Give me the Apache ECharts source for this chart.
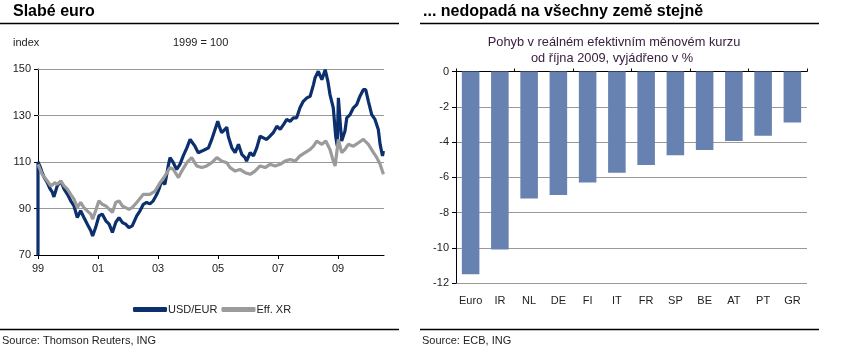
<!DOCTYPE html>
<html><head><meta charset="utf-8">
<script src="https://cdn.jsdelivr.net/npm/echarts@6/dist/echarts.min.js"></script>
<style>html,body{margin:0;padding:0;background:#fff}#c{width:849px;height:359px}</style>
</head><body><div id="c"></div>
<script>
// ---- left chart data (decimal year, index 1999 = 100)
const usdYears = [1999.00,1999.00,1999.07,1999.14,1999.22,1999.31,1999.40,1999.48,1999.53,1999.64,1999.76,1999.87,1999.98,2000.09,2000.20,2000.31,2000.42,2000.53,2000.64,2000.76,2000.82,2000.92,2001.03,2001.14,2001.26,2001.37,2001.48,2001.59,2001.70,2001.81,2001.92,2002.03,2002.14,2002.29,2002.40,2002.51,2002.62,2002.73,2002.84,2002.96,2003.05,2003.12,2003.23,2003.34,2003.40,2003.51,2003.62,2003.73,2003.84,2003.96,2004.07,2004.12,2004.23,2004.34,2004.46,2004.57,2004.68,2004.79,2004.90,2004.99,2005.05,2005.12,2005.23,2005.29,2005.34,2005.46,2005.57,2005.68,2005.79,2005.90,2005.95,2006.07,2006.18,2006.29,2006.40,2006.51,2006.62,2006.73,2006.84,2006.96,2007.07,2007.18,2007.29,2007.40,2007.51,2007.62,2007.73,2007.84,2007.96,2008.07,2008.12,2008.18,2008.23,2008.34,2008.46,2008.57,2008.66,2008.73,2008.84,2008.92,2008.97,2009.01,2009.07,2009.12,2009.23,2009.29,2009.40,2009.51,2009.62,2009.73,2009.84,2009.92,2010.01,2010.12,2010.23,2010.34,2010.40,2010.48,2010.51];
const usdValues = [70,110,108,105.4,103,101.1,98.5,96.9,95,99.7,101.8,98.3,96.1,93.3,91.1,86.1,89.0,86.1,83.3,80.4,78.2,81.8,86.8,87.6,84.7,83.3,79.7,84,86.1,84,83.3,81.8,82.5,86.8,89,91.8,92.6,92,93.3,96.1,99,101.8,100.4,108.3,111.9,109.7,106.8,109,112.6,116.1,119.7,120.4,116.8,114,114.7,115.4,116.1,119.7,124,127.5,125,122.6,124,125,121.1,116.1,114,117.6,113.3,111.9,110.4,114,112.6,116.1,121.1,120.4,119.7,121.1,122.6,125.4,124,126.1,128.3,127.5,129,129,133.3,136.1,137.6,138.3,139,143.3,146.1,149,145.4,149.7,144.7,139,133.3,121.1,117,137.6,126.9,119,123.3,129,130.4,133.3,134.7,138.3,141.1,141.1,136.1,130.4,128.3,124,117.6,112.6,114.7];
const effYears = [1999.00,1999.14,1999.31,1999.43,1999.56,1999.64,1999.76,1999.87,1999.98,2000.09,2000.20,2000.31,2000.42,2000.53,2000.64,2000.76,2000.82,2000.92,2001.03,2001.14,2001.26,2001.37,2001.48,2001.59,2001.70,2001.81,2001.92,2002.03,2002.14,2002.29,2002.51,2002.73,2002.90,2003.07,2003.23,2003.40,2003.51,2003.68,2003.79,2003.96,2004.12,2004.29,2004.46,2004.62,2004.79,2004.96,2005.12,2005.29,2005.40,2005.57,2005.73,2005.90,2006.07,2006.23,2006.40,2006.57,2006.73,2006.90,2007.07,2007.23,2007.40,2007.57,2007.73,2007.90,2008.07,2008.18,2008.29,2008.46,2008.59,2008.73,2008.84,2008.90,2009.01,2009.12,2009.23,2009.34,2009.51,2009.68,2009.84,2010.01,2010.18,2010.29,2010.40,2010.51];
const effValues = [109,104.7,101.8,99.7,101.1,100.4,101.8,99.7,98.3,96.1,94,90.4,92.6,90.4,89,87.6,85.4,89,93.3,91.8,91.1,89.7,88.3,92.6,93.3,91.1,90.4,89.7,90.4,92.6,96.1,96.1,97.5,101.1,104,107.6,106.8,103.3,106.1,109.7,111.9,108.3,107.6,108.3,109.7,111.9,110.4,109.7,107.6,106.1,106.8,105.4,104.7,106.1,108.3,107.6,109,108.3,109,110.4,111.1,110.4,112.6,114,115.4,116.8,119,117.6,119,115.4,110.4,108.3,119.7,114,115.4,117.6,116.8,118.3,119.7,117.6,114,111.9,109,104.7];
const leftYTicks = [70, 90, 110, 130, 150];
const leftXTicks = [1999, 2001, 2003, 2005, 2007, 2009];

// ---- right chart data (% change since Oct 2009)
const countries = ['Euro','IR','NL','DE','FI','IT','FR','SP','BE','AT','PT','GR'];
const reerChange = [-11.5,-10.1,-7.2,-7.0,-6.3,-5.75,-5.3,-4.75,-4.45,-3.95,-3.65,-2.9];

const FONT = '"Liberation Sans", Arial, sans-serif';
const chart = echarts.init(document.getElementById('c'), null, {renderer: 'canvas'});
const txt = (x, y, s, extra) => Object.assign({type: 'text', left: x, top: y, style: Object.assign({text: s, font: '11px ' + FONT, fill: '#222'}, extra || {})});
const hline = (x1, x2, y, w) => ({type: 'line', shape: {x1: x1, y1: y, x2: x2, y2: y}, style: {stroke: '#000', lineWidth: w}});

chart.setOption({
  animation: false,
  textStyle: {fontFamily: FONT},
  grid: [
    {left: 38, top: 69, width: 346, height: 186},
    {left: 456, top: 71.5, width: 351, height: 211.5}
  ],
  legend: {
    data: ['USD/EUR', 'Eff. XR'], left: 128, top: 299, itemWidth: 34, itemHeight: 5, itemGap: 4,
    icon: 'roundRect', textStyle: {fontSize: 11, color: '#222', fontFamily: FONT, padding: [0, 0, 0, -4]}
  },
  xAxis: [
    {type: 'value', gridIndex: 0, min: 1999, max: 2010.53,
     axisLine: {show: true, onZero: false, lineStyle: {color: '#000', width: 1}},
     axisTick: {show: true, length: 4, customValues: leftXTicks, lineStyle: {color: '#000'}},
     axisLabel: {customValues: leftXTicks, formatter: v => String(Math.round(v)).slice(2), fontSize: 11, color: '#222', margin: 8},
     splitLine: {show: false}},
    {type: 'category', gridIndex: 1, data: countries, position: 'bottom',
     axisLine: {show: false}, axisTick: {show: false},
     axisLabel: {fontSize: 11, color: '#222', margin: 12, interval: 0}},
    {type: 'category', gridIndex: 1, data: countries, position: 'top',
     axisLine: {show: true, lineStyle: {color: '#000'}},
     axisTick: {show: true, length: 3, inside: false, lineStyle: {color: '#000'}},
     axisLabel: {show: false}}
  ],
  yAxis: [
    {type: 'value', gridIndex: 0, min: 70, max: 150,
     axisLine: {show: true, lineStyle: {color: '#000'}},
     axisTick: {show: true, length: 4, customValues: leftYTicks, lineStyle: {color: '#000'}},
     axisLabel: {customValues: leftYTicks, fontSize: 11, color: '#222', margin: 7},
     splitLine: {show: false}},
    {type: 'value', gridIndex: 1, min: -12, max: 0, interval: 2,
     axisLine: {show: true, lineStyle: {color: '#000'}},
     axisTick: {show: true, length: 4, lineStyle: {color: '#000'}},
     axisLabel: {fontSize: 11, color: '#222', margin: 7},
     splitLine: {show: true, lineStyle: {color: '#999', width: 1}}}
  ],
  series: [
    {name: 'USD/EUR', type: 'line', xAxisIndex: 0, yAxisIndex: 0, showSymbol: false, symbol: 'none',
     data: usdYears.map((t, i) => [t, usdValues[i]]),
     lineStyle: {color: '#0c2f6e', width: 3.2}, itemStyle: {color: '#0c2f6e'}, z: 3,
     markLine: {silent: true, symbol: 'none', label: {show: false},
       lineStyle: {color: '#999', type: 'solid', width: 1},
       data: leftYTicks.slice(1).map(v => ({yAxis: v})), z: 1}},
    {name: 'Eff. XR', type: 'line', xAxisIndex: 0, yAxisIndex: 0, showSymbol: false, symbol: 'none',
     data: effYears.map((t, i) => [t, effValues[i]]),
     lineStyle: {color: '#9b9b9b', width: 3.2}, itemStyle: {color: '#9b9b9b'}, z: 4},
    {name: 'reer', type: 'bar', xAxisIndex: 1, yAxisIndex: 1, data: reerChange, barWidth: '60%',
     itemStyle: {color: '#6781b1'}}
  ],
  graphic: [
    txt(13, 4, 'Slabé euro', {font: 'bold 16px ' + FONT, fill: '#000'}),
    txt(423, 4, '... nedopadá na všechny země stejně', {font: 'bold 16px ' + FONT, fill: '#000'}),
    hline(0, 399, 23.5, 1.5),
    hline(420, 819, 23.5, 1.5),
    hline(0, 399, 329.5, 1.5),
    hline(420, 819, 329.5, 1.5),
    txt(13, 37, 'index'),
    txt(173, 37, '1999 = 100'),
    {type: 'text', x: 614, y: 36, style: {text: 'Pohyb v reálném efektivním měnovém kurzu', font: '12.8px ' + FONT, fill: '#3a2040', textAlign: 'center'}},
    {type: 'text', x: 612, y: 52, style: {text: 'od října 2009, vyjádřeno v %', font: '12.8px ' + FONT, fill: '#3a2040', textAlign: 'center'}},
    txt(2, 335, 'Source: Thomson Reuters, ING'),
    txt(422, 335, 'Source: ECB, ING')
  ]
});
</script></body></html>
